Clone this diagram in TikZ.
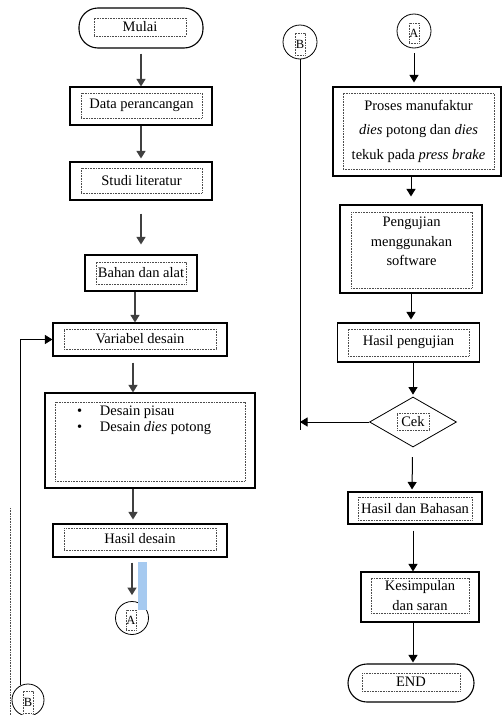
\documentclass[tikz,border=0pt]{standalone}
\usepackage{fontspec}
\setmainfont{Liberation Serif}
\usetikzlibrary{arrows.meta,shapes.geometric}
\definecolor{sorot}{RGB}{166,202,240}
\tikzset{
>={Stealth[length=7.5pt,width=9pt,inset=0pt]},
kotak/.style={draw,line width=1.1pt,inner sep=0pt},
terminal/.style={kotak,rounded corners=19pt},
titik/.style={line width=0.8pt,dash pattern=on 0.8pt off 0.8pt,black!70},
bingkai/.style={draw,titik,text=black,inner sep=0pt,align=center},
konektor/.style={circle,draw,line width=0.8pt,minimum size=33pt,inner sep=0pt},
cek node/.style={diamond,draw,line width=0.8pt,inner sep=0pt},
huruf/.style={font=\fontsize{12.5}{12.5}\selectfont},
panah/.style={->,line width=1.3pt,black!75},
panah kanan/.style={->,line width=1pt},
garis/.style={line width=0.9pt}}

\begin{document}
\begin{tikzpicture}[x=1pt,y=-1pt,font=\fontsize{14.5}{19.5}\selectfont]

\useasboundingbox (0,0) rectangle (502,715);

% kolom kiri
\node (mulai) [terminal,minimum width=124pt,minimum height=40pt] at (141,28) {};
\node (data) [kotak,minimum width=142pt,minimum height=38pt] at (141,106) {};
\node (studi) [kotak,minimum width=142pt,minimum height=38pt] at (141,181) {};
\node (bahan) [kotak,minimum width=112pt,minimum height=36pt] at (141,273) {};
\node (variabel) [kotak,minimum width=174pt,minimum height=33pt] at (140,339.5) {};
\node (desain) [kotak,minimum width=210pt,minimum height=95pt] at (150,440.5) {};
\node (hasil) [kotak,minimum width=174pt,minimum height=33pt] at (140,540.5) {};
\node (A) [konektor] at (132,618) {};
\node (B) [konektor,minimum size=32pt] at (28,700) {};

\node (tmulai) [bingkai,minimum width=92pt,minimum height=18pt] at (140,27) {Mulai};
\node (tdata) [bingkai,minimum width=121pt,minimum height=25pt] at (141.5,105.5) {Data perancangan};
\node (tstudi) [bingkai,minimum width=121pt,minimum height=25pt] at (141.5,180.5) {Studi literatur};
\node (tbahan) [bingkai,minimum width=90pt,minimum height=22pt] at (141,273) {Bahan dan alat};
\node (tvariabel) [bingkai,minimum width=152pt,minimum height=20pt] at (140,339) {Variabel desain};
\node (tdesain) [bingkai,minimum width=190pt,minimum height=79pt,font=\fontsize{14.5}{16}\selectfont] at (150,441.5)
  {\parbox[c][77pt][t]{188pt}{\vspace{3pt}\hspace*{21pt}\makebox[23pt][l]{\textbullet}Desain pisau\\
   \hspace*{21pt}\makebox[23pt][l]{\textbullet}Desain \textit{dies} potong}};
\node (thasil) [bingkai,minimum width=152pt,minimum height=22pt] at (140,539) {Hasil desain};
\node (tA) [bingkai,huruf,minimum width=10pt,minimum height=20pt] at (131,620) {A};
\node (tB) [bingkai,huruf,minimum width=10pt,minimum height=22pt] at (28,702) {B};

\fill[sorot] (138,562) rectangle (147,610);
\draw[titik] (10,508) -- (10,715);

% kolom kanan
\node (A2) [konektor,minimum size=34pt] at (414,31) {};
\node (B2) [konektor,minimum size=34pt] at (300,42) {};
\node (proses) [kotak,minimum width=168pt,minimum height=89pt] at (417,131.5) {};
\node (pengujian) [kotak,minimum width=142pt,minimum height=88pt] at (411,249) {};
\node (hasilpeng) [kotak,minimum width=142pt,minimum height=39pt] at (408.5,342.5) {};
\node (cek) [cek node,minimum width=87pt,minimum height=50pt] at (413,422) {};
\node (bahasan) [kotak,minimum width=134pt,minimum height=32pt] at (415,508) {};
\node (kesimpulan) [kotak,minimum width=118pt,minimum height=50pt] at (420,597) {};
\node (selesai) [terminal,minimum width=126pt,minimum height=38pt] at (411,683) {};
\coordinate (ujungB) at (300,430);
\coordinate (temu) at (300,422);

\node (tA2) [bingkai,huruf,minimum width=10pt,minimum height=20pt] at (414,33) {A};
\node (tB2) [bingkai,huruf,minimum width=10pt,minimum height=22pt] at (300,44) {B};
\node (tproses) [bingkai,minimum width=151pt,minimum height=76pt,font=\fontsize{14.5}{24.5}\selectfont] at (418.5,131)
  {Proses manufaktur\\ \textit{dies} potong dan \textit{dies}\\ tekuk pada \textit{press brake}};
\node (tpengujian) [bingkai,minimum width=121pt,minimum height=76pt] at (411.5,250)
  {\parbox[c][74pt][t]{119pt}{\centering\vspace{4pt}Pengujian\\ menggunakan\\ software}};
\node (thasilpeng) [bingkai,minimum width=121pt,minimum height=27pt] at (408.5,342.5) {Hasil pengujian};
\node (tcek) [bingkai,minimum width=32pt,minimum height=17pt] at (413,421.5) {Cek};
\node (tbahasan) [bingkai,minimum width=114pt,minimum height=23pt] at (415,508.5) {Hasil dan Bahasan};
\node (tkesimpulan) [bingkai,minimum width=98pt,minimum height=35pt] at (420,595.5) {Kesimpulan\\ dan saran};
\node (tselesai) [bingkai,minimum width=98pt,minimum height=18pt] at (411,682) {END};

% panah kiri
\path[panah] (mulai) edge[shorten <=5pt] (data);
\path[panah] (data) edge[shorten >=3pt] (studi);
\path[panah] (studi) edge[shorten <=13pt,shorten >=10pt] (bahan);
\path[panah] ([xshift=-6pt]bahan.south) edge ([xshift=-5pt]variabel.north);
\path[panah] ([xshift=-7pt]variabel.south) edge[shorten <=6pt] ([xshift=-17pt]desain.north);
\path[panah] ([xshift=-17pt]desain.south) edge[shorten >=4pt] ([xshift=-7pt]hasil.north);
\path[panah] ([xshift=-8pt]hasil.south) edge[shorten <=5pt,shorten >=6pt] (A);
\draw[panah kanan,garis] (B.116) |- (variabel.west);

% panah kanan
\path[panah kanan] (A2) edge[shorten <=5pt,shorten >=4pt] ([xshift=-3pt]proses.north);
\path[panah kanan] ([xshift=-6pt]proses.south) edge[shorten >=8pt] (pengujian.north);
\path[panah kanan] (pengujian) edge[shorten >=3pt] ([xshift=2.5pt]hasilpeng.north);
\path[panah kanan] ([xshift=4.5pt]hasilpeng.south) edge[shorten >=2pt] (cek);
\path[panah kanan] (cek) edge[shorten <=10pt,shorten >=2pt] ([xshift=-3pt]bahasan.north);
\path[panah kanan] ([xshift=-2pt]bahasan.south) edge[shorten <=6pt] ([xshift=-7pt]kesimpulan.north);
\path[panah kanan] ([xshift=-7pt]kesimpulan.south) edge[shorten >=1pt] ([xshift=2pt]selesai.north);
\path[panah kanan] (cek) edge (temu);
\draw[garis] (B2) -- (ujungB);

\end{tikzpicture}
\end{document}
